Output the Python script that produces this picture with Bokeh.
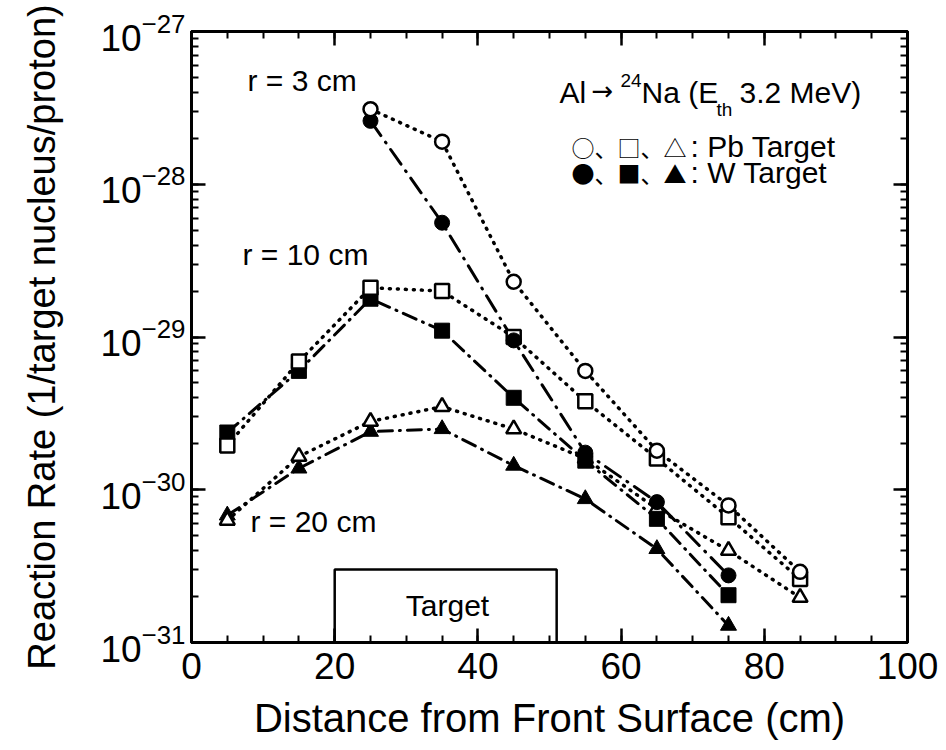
from bokeh.plotting import figure
from bokeh.models import (LinearAxis, LogAxis, Label, SingleIntervalTicker, LogTicker,
                          CustomJSTickFormatter)
from bokeh.embed import file_html
from bokeh.resources import INLINE

# ---------------- data ----------------
dist_all = [5, 15, 25, 35, 45, 55, 65, 75, 85]
dist_r3 = [25, 35, 45, 55, 65, 75, 85]
dist_r3_w = [25, 35, 45, 55, 65, 75]
dist_w = [5, 15, 25, 35, 45, 55, 65, 75]

pb_r3 = [3.1e-28, 1.9e-28, 2.3e-29, 6.0e-30, 1.8e-30, 7.9e-31, 2.9e-31]
w_r3 = [2.6e-28, 5.6e-29, 9.5e-30, 1.75e-30, 8.3e-31, 2.75e-31]
pb_r10 = [1.95e-30, 6.9e-30, 2.1e-29, 2.0e-29, 1.0e-29, 3.8e-30, 1.6e-30, 6.6e-31, 2.6e-31]
w_r10 = [2.37e-30, 6.0e-30, 1.78e-29, 1.1e-29, 4.0e-30, 1.55e-30, 6.45e-31, 2.04e-31]
pb_r20 = [6.3e-31, 1.65e-30, 2.8e-30, 3.5e-30, 2.5e-30, 1.6e-30, 7.5e-31, 4.0e-31, 1.97e-31]
w_r20 = [6.8e-31, 1.38e-30, 2.4e-30, 2.5e-30, 1.44e-30, 8.7e-31, 4.1e-31, 1.29e-31]

target_start = [20]
target_end = [51]
target_top = [3.0e-31]

# ---------------- layout helpers ----------------
W, H = 946, 750
FL, FR, FT, FB = 191, 907, 31, 642
XMIN, XMAX = 0, 100
YMIN, YMAX = 1e-31, 1e-27


def dx(px):
    return XMIN + (px - FL) / (FR - FL) * (XMAX - XMIN)


def dy(py):
    return 10 ** (-27 - 4 * (py - FT) / (FB - FT))


p = figure(width=W, height=H, x_range=(XMIN, XMAX), y_range=(YMIN, YMAX),
           y_axis_type="log", output_backend="svg", toolbar_location=None,
           min_border_left=FL, min_border_right=W - FR, min_border_top=FT,
           min_border_bottom=H - FB)
p.background_fill_color = "white"
p.border_fill_color = "white"
p.outline_line_color = "black"
p.outline_line_width = 3
p.xgrid.visible = False
p.ygrid.visible = False

FONT = "Liberation Sans"

xa = p.xaxis[0]
xa.ticker = SingleIntervalTicker(interval=20, num_minor_ticks=4)
xa.axis_label = "Distance from Front Surface (cm)"
ya = p.yaxis[0]
ya.ticker = LogTicker(mantissas=[1], num_minor_ticks=10, desired_num_ticks=5)
ya.axis_label = "Reaction Rate (1/target nucleus/proton)"

for ax in (xa, ya):
    ax.axis_line_width = 3
    ax.axis_line_color = "black"
    ax.major_tick_in = 14
    ax.major_tick_out = 0
    ax.minor_tick_in = 7
    ax.minor_tick_out = 0
    ax.major_tick_line_width = 2.5
    ax.minor_tick_line_width = 2
    ax.major_label_text_font = FONT
    ax.major_label_text_font_size = "37px"
    ax.major_label_text_color = "black"
    ax.axis_label_text_font = FONT
    ax.axis_label_text_font_style = "normal"
    ax.axis_label_text_color = "black"

xa.major_label_standoff = 10
xa.axis_label_text_font_size = "40px"
xa.axis_label_standoff = 14
ya.major_label_standoff = 6
ya.axis_label_text_font_size = "38px"
ya.axis_label_standoff = 34

blank = CustomJSTickFormatter(code="return ''")
top = LinearAxis(ticker=SingleIntervalTicker(interval=20, num_minor_ticks=4), formatter=blank)
right = LogAxis(ticker=LogTicker(mantissas=[1], num_minor_ticks=10, desired_num_ticks=5),
                formatter=blank)
for ax in (top, right):
    ax.axis_line_width = 3
    ax.major_tick_in = 14
    ax.major_tick_out = 0
    ax.minor_tick_in = 7
    ax.minor_tick_out = 0
    ax.major_tick_line_width = 2.5
    ax.minor_tick_line_width = 2
    ax.major_label_text_font_size = "8px"
    ax.major_label_standoff = 0
p.add_layout(top, "above")
p.add_layout(right, "right")

# ---------------- target box ----------------
p.quad(left=target_start, right=target_end, bottom=[YMIN], top=target_top,
       fill_color="white", line_color="black", line_width=2.5)

# ---------------- lines ----------------
DOT = "1 7"
DASHDOT = "14 7 1 7"
line_kw = dict(line_color="black", line_cap="round")
p.line(dist_all, pb_r20, line_dash=DOT, line_width=3.5, **line_kw)
p.line(dist_w, w_r20, line_dash=DASHDOT, line_width=3, **line_kw)
p.line(dist_all, pb_r10, line_dash=DOT, line_width=3.5, **line_kw)
p.line(dist_w, w_r10, line_dash=DASHDOT, line_width=3, **line_kw)
p.line(dist_r3, pb_r3, line_dash=DOT, line_width=3.5, **line_kw)
p.line(dist_r3_w, w_r3, line_dash="18 8 1 8", line_width=3, **line_kw)

# ---------------- markers ----------------
p.scatter(dist_w, w_r20, marker="triangle", size=16, fill_color="black", line_color="black")
p.scatter(dist_all, pb_r20, marker="triangle", size=15, fill_color="white",
          line_color="black", line_width=2.5)
p.scatter(dist_w, w_r10, marker="square", size=15, fill_color="black", line_color="black")
p.scatter(dist_all, pb_r10, marker="square", size=14, fill_color="white",
          line_color="black", line_width=2.5)
p.scatter(dist_r3_w, w_r3, marker="circle", size=15, fill_color="black", line_color="black")
p.scatter(dist_r3, pb_r3, marker="circle", size=14, fill_color="white",
          line_color="black", line_width=2.5)


# ---------------- texts ----------------
def lab(text, px, py, size, align="left", baseline="middle", font=FONT):
    p.add_layout(Label(x=dx(px), y=dy(py), text=text, text_font=font,
                       text_font_size=f"{size}px", text_align=align,
                       text_baseline=baseline, text_color="black"))


lab("r = 3 cm", 247, 80, 30)
lab("r = 10 cm", 242, 254, 30)
lab("r = 20 cm", 250, 521, 30)
lab("Target", 447, 605, 30, align="center")

lab("Al", 559, 92, 30)
lab("\u2192", 591, 90, 26, font="DejaVu Sans")
lab("24", 620, 80, 19)
lab("Na (E", 641, 92, 30)
lab("th", 716, 109, 19)
lab("3.2 MeV)", 739, 92, 30)

lab("\u25cb\u3001\u25a1\u3001\u25b3", 571, 146, 23, font="Noto Sans CJK JP")
lab(": Pb Target", 690, 146, 30)
lab("\u25cf\u3001\u25a0\u3001\u25b2", 571, 172, 23, font="Noto Sans CJK JP")
lab(": W  Target", 690, 172, 30)

open("out.html", "w").write(file_html(p, INLINE))
